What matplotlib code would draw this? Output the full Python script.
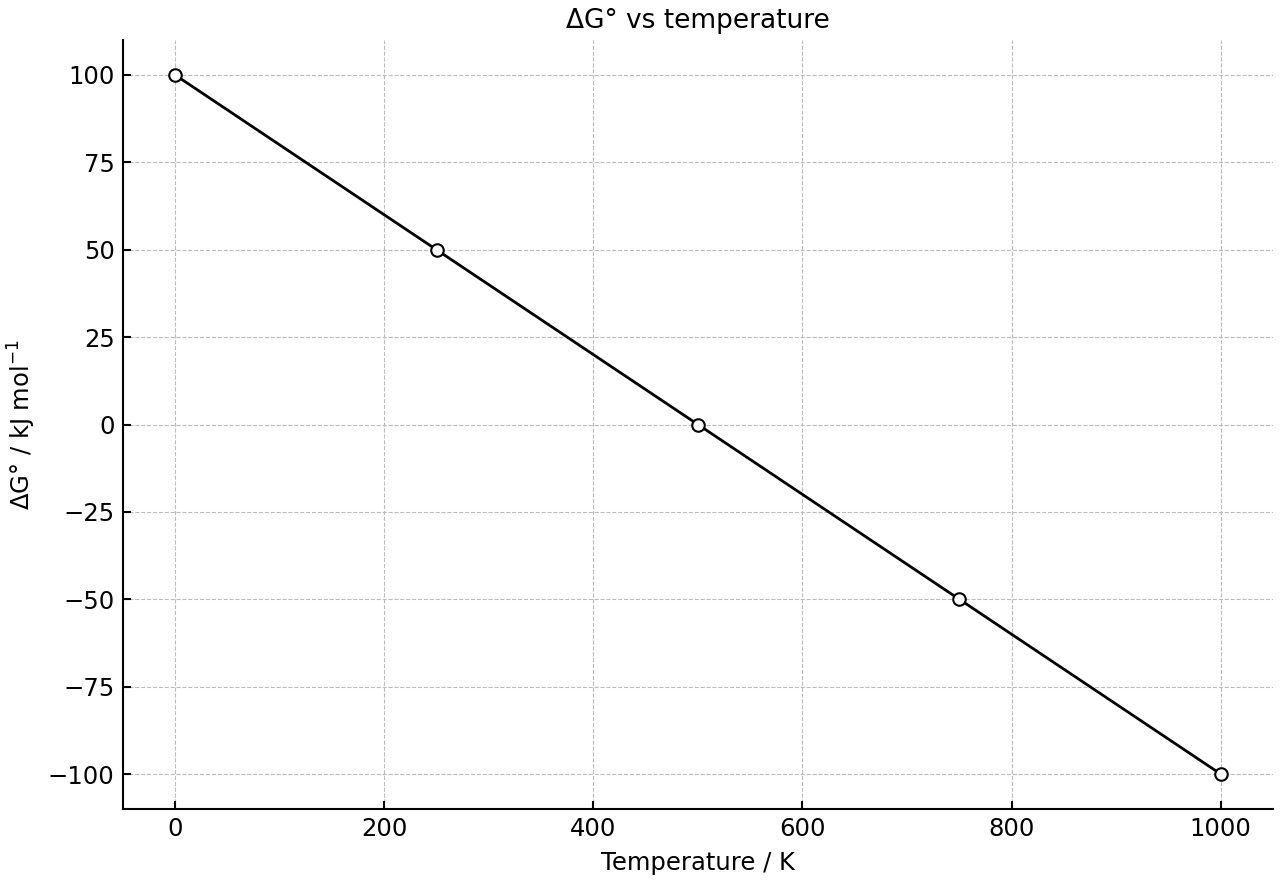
import matplotlib
matplotlib.use("Agg")
import matplotlib.pyplot as plt

# temperature (K) and standard Gibbs energy change (kJ/mol)
temps = [0, 250, 500, 750, 1000]
delta_g = [100, 50, 0, -50, -100]

fig, ax = plt.subplots(figsize=(12.8, 8.8), dpi=100)
fig.subplots_adjust(left=0.096, right=0.9945, top=0.9545, bottom=0.0807)

ax.plot(temps, delta_g, color='black', linewidth=2, marker='o',
        markersize=9, markerfacecolor='white', markeredgecolor='black',
        markeredgewidth=1.5, zorder=3)

ax.set_title('ΔG° vs temperature', fontsize=19, pad=9)
ax.set_xlabel('Temperature / K', fontsize=17.5, labelpad=7)
ax.set_ylabel(r'ΔG° / kJ mol$^{-1}$', fontsize=17.5, labelpad=7)
ax.set_yticks([100, 75, 50, 25, 0, -25, -50, -75, -100])
ax.tick_params(direction='in', labelsize=17.5, length=6, width=1.5, pad=6)
ax.grid(True, linestyle='--', color='#bbbbbb', linewidth=0.8)
ax.spines['top'].set_visible(False)
ax.spines['right'].set_visible(False)
ax.spines['left'].set_linewidth(1.5)
ax.spines['bottom'].set_linewidth(1.5)

fig.savefig('out.png')
